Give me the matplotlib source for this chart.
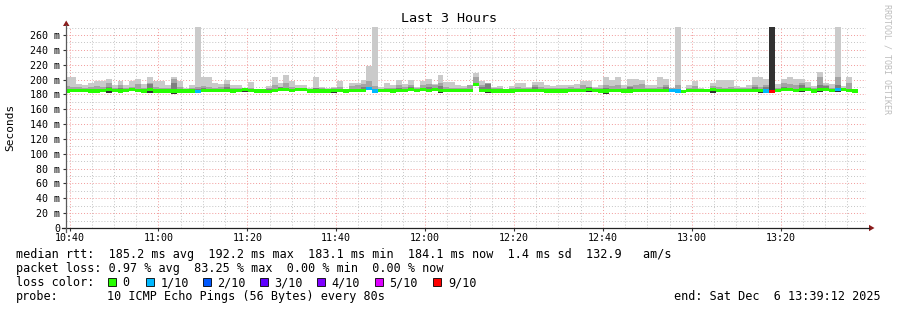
import numpy as np
import matplotlib.pyplot as plt
from matplotlib.lines import Line2D
from matplotlib.patches import Polygon, Rectangle

plt.rcParams['font.family'] = 'DejaVu Sans Mono'

W, H = 897, 310

# time axis: minutes after midnight, one column per 80 s step
t_start = 10*60 + 39.2   # 10:39:12
t_end = 13*60 + 39.2     # 13:39:12
step = 80/60

x_ticks = [640, 660, 680, 700, 720, 740, 760, 780, 800]
x_labels = ["10:40", "11:00", "11:20", "11:40", "12:00", "12:20", "12:40", "13:00", "13:20"]
y_ticks = [0, 20, 40, 60, 80, 100, 120, 140, 160, 180, 200, 220, 240, 260]
y_labels = ["0", "20 m", "40 m", "60 m", "80 m", "100 m", "120 m", "140 m", "160 m",
            "180 m", "200 m", "220 m", "240 m", "260 m"]

# median rtt per step (ms)
median = [184.5, 185.5, 185.5, 185.0, 184.5, 184.5, 185.5, 186.0, 185.0, 184.5,
          185.5, 186.0, 185.0, 184.5, 186.0, 184.5, 184.5, 184.5, 184.5, 184.5,
          184.5, 184.5, 184.0, 185.0, 185.0, 185.5, 185.5, 185.0, 184.5, 185.5,
          186.5, 185.0, 184.5, 184.5, 184.0, 185.5, 186.0, 186.0, 185.0, 187.0,
          187.0, 184.5, 184.5, 184.5, 184.5, 185.5, 185.5, 184.5, 185.0, 185.5,
          185.0, 187.5, 184.5, 185.0, 185.0, 184.5, 185.0, 185.5, 186.0, 185.5,
          186.0, 185.0, 186.0, 185.0, 185.0, 185.5, 185.0, 185.5, 185.0, 193.0,
          185.5, 185.0, 184.5, 184.5, 184.5, 184.5, 185.0, 185.0, 185.0, 185.0,
          185.0, 184.5, 184.5, 184.5, 184.5, 185.0, 185.0, 185.0, 187.0, 185.0,
          184.5, 184.5, 185.0, 185.5, 184.5, 184.5, 185.0, 185.0, 185.0, 185.0,
          185.0, 185.5, 185.0, 184.5, 183.5, 185.0, 185.0, 185.0, 185.0, 186.0,
          185.0, 185.0, 185.0, 185.0, 185.0, 185.0, 185.5, 185.5, 184.5, 183.5,
          185.5, 186.5, 186.5, 185.5, 186.5, 186.0, 184.5, 186.5, 186.5, 185.5,
          186.5, 186.0, 185.0, 184.5]

# lost pings out of 10 per step
loss = [0, 0, 0, 0, 0, 0, 0, 0, 0, 0,
        0, 0, 0, 0, 0, 0, 0, 0, 0, 0,
        0, 0, 1, 0, 0, 0, 0, 0, 0, 0,
        0, 0, 0, 0, 0, 0, 0, 0, 0, 0,
        0, 0, 0, 0, 0, 0, 0, 0, 0, 0,
        0, 1, 1, 0, 0, 0, 0, 0, 0, 0,
        0, 0, 0, 0, 0, 0, 0, 0, 0, 0,
        0, 0, 0, 0, 0, 0, 0, 0, 0, 0,
        0, 0, 0, 0, 0, 0, 0, 0, 0, 0,
        0, 0, 0, 0, 0, 0, 0, 0, 0, 0,
        0, 0, 1, 1, 0, 0, 0, 0, 0, 0,
        0, 0, 0, 0, 0, 0, 0, 0, 1, 9,
        0, 0, 0, 0, 0, 0, 0, 0, 0, 0,
        1, 0, 0, 0]

# smoke: slowest ping, 2nd, 3rd slowest, middle ping, fastest ping (ms)
ping_max = [204, 204, 194, 193, 195, 197.5, 198, 201, 193, 197.5,
            193, 197.5, 201, 194, 203, 197.5, 197.5, 192, 204, 197.5,
            188.5, 193, 320, 203, 204, 195, 194, 200, 193, 192,
            188.5, 196.5, 186.5, 186.5, 190.8, 203, 195, 205.6, 197.5, 193,
            192, 188.5, 203, 189.4, 188.5, 189.4, 197.5, 187.6, 195, 195,
            200, 217.7, 320, 189.4, 195, 192, 200, 194, 200, 189.4,
            197.5, 201, 194, 205.6, 196.5, 196.5, 192, 190.8, 192, 208.7,
            197.5, 195, 189.4, 190.8, 187.6, 190.8, 195, 195, 189.4, 196.5,
            196.5, 192, 190.8, 192, 193, 193, 194, 197.5, 197.5, 189.4,
            192, 203, 200, 204, 192, 201, 201, 200, 193, 192,
            203, 201, 188.5, 320, 186, 193, 198, 188.5, 186.3, 195,
            200, 200, 200, 190.8, 189.4, 192, 204, 204, 201, 320,
            194, 201, 204, 201, 201, 196.5, 190.8, 210, 195, 194,
            320, 190.8, 204, 186.3]

ping_9 = [191, 190, 190, 189, 190, 191, 190, 195, 189, 192,
          189, 190, 194, 189, 196, 190, 189, 188, 201, 190,
          187, 189, 190, 191, 190, 189, 190, 194, 189, 188,
          188, 189, 186, 186, 189, 193, 190, 196, 190, 188,
          189, 187, 189, 188, 187, 188, 190, 187, 191, 192,
          194, 198, 191, 187, 189, 188, 193, 190, 192, 188,
          193, 194, 192, 196, 190, 189, 188, 188, 192, 203,
          193, 195, 188, 189, 187, 188, 190, 189, 188, 192,
          190, 188, 188, 189, 189, 190, 189, 192, 190, 188,
          189, 192, 191, 192, 189, 191, 192, 194, 189, 188,
          190, 193, 188, 193, 185, 188, 191, 187, 186, 191,
          190, 189, 190, 188, 188, 189, 192, 190, 192, 320,
          189, 195, 194, 193, 196, 190, 188, 203, 192, 189,
          204, 188, 195, 186]

ping_8 = [187, 187, 187, 187, 187, 187, 187, 190, 187, 189,
          187, 187, 187, 187, 194, 187, 187, 187, 196, 187,
          187, 187, 187, 189, 187, 187, 187, 190, 187, 187,
          187, 187, 186, 186, 187, 187, 190, 187, 187, 187,
          187, 187, 188, 187, 187, 187, 187, 187, 187, 187,
          190, 190, 187, 187, 187, 187, 189, 187, 190, 187,
          187, 190, 187, 191, 187, 187, 187, 187, 187, 195,
          190, 194, 187, 187, 187, 187, 187, 187, 187, 190,
          187, 187, 187, 187, 187, 187, 187, 187, 190, 187,
          187, 189, 187, 187, 187, 190, 187, 187, 187, 187,
          187, 190, 187, 187, 185, 187, 187, 187, 186, 189,
          187, 187, 187, 187, 187, 187, 190, 187, 190, 320,
          187, 190, 187, 187, 193, 187, 187, 193, 191, 187,
          193, 187, 187, 186]

ping_6 = [184.5, 185.5, 185.5, 185.0, 184.5, 184.5, 185.5, 186.0, 185.0, 184.5,
          185.5, 186.0, 185.0, 184.5, 186.0, 184.5, 184.5, 184.5, 184.5, 184.5,
          184.5, 184.5, 184.0, 185.0, 185.0, 185.5, 185.5, 185.0, 184.5, 185.5,
          186.5, 185.0, 184.5, 184.5, 184.0, 185.5, 186.0, 186.0, 185.0, 187.0,
          187.0, 184.5, 184.5, 184.5, 184.5, 185.5, 185.5, 184.5, 185.0, 185.5,
          185.0, 187.5, 184.5, 185.0, 185.0, 184.5, 185.0, 185.5, 186.0, 185.5,
          186.0, 185.0, 186.0, 185.0, 185.0, 185.5, 185.0, 185.5, 185.0, 193.0,
          185.5, 185.0, 184.5, 184.5, 184.5, 184.5, 185.0, 185.0, 185.0, 185.0,
          185.0, 184.5, 184.5, 184.5, 184.5, 185.0, 185.0, 185.0, 187.0, 185.0,
          184.5, 184.5, 185.0, 185.5, 184.5, 184.5, 185.0, 185.0, 185.0, 185.0,
          185.0, 185.5, 185.0, 184.5, 183.5, 185.0, 185.0, 185.0, 185.0, 186.0,
          185.0, 185.0, 185.0, 185.0, 185.0, 185.0, 185.5, 185.5, 184.5, 320,
          185.5, 186.5, 186.5, 185.5, 186.5, 186.0, 184.5, 186.5, 186.5, 185.5,
          186.5, 186.0, 185.0, 184.5]

ping_min = [183.0, 184.0, 184.0, 183.5, 183.0, 183.0, 184.0, 182.5, 183.5, 183.0,
            184.0, 184.5, 183.5, 183.0, 182.5, 183.0, 183.0, 183.0, 181.0, 183.0,
            183.0, 183.0, 182.5, 183.5, 183.5, 184.0, 184.0, 183.5, 183.0, 184.0,
            183.0, 183.5, 183.0, 183.0, 182.5, 184.0, 184.5, 184.5, 183.5, 185.5,
            185.5, 183.0, 183.0, 183.0, 183.0, 182.0, 184.0, 183.0, 183.5, 184.0,
            183.5, 186.0, 183.0, 183.5, 183.5, 183.0, 183.5, 184.0, 184.5, 184.0,
            184.5, 183.5, 184.5, 181.5, 183.5, 184.0, 183.5, 184.0, 183.5, 192.0,
            184.0, 181.5, 183.0, 183.0, 183.0, 183.0, 183.5, 183.5, 183.5, 183.5,
            183.5, 183.0, 183.0, 183.0, 183.0, 183.5, 183.5, 183.5, 183.5, 183.5,
            183.0, 181.0, 183.5, 184.0, 183.0, 183.0, 183.5, 183.5, 183.5, 183.5,
            183.5, 184.0, 183.5, 183.0, 182.0, 183.5, 183.5, 183.5, 183.5, 182.5,
            183.5, 183.5, 183.5, 183.5, 183.5, 183.5, 184.0, 182.0, 183.0, 182.0,
            184.0, 185.0, 185.0, 184.0, 183.0, 184.5, 183.0, 183.0, 185.0, 184.0,
            183.0, 184.5, 183.5, 183.0]

loss_levels = [0, 1, 2, 3, 4, 5, 9]
loss_labels = ["0", "1/10", "2/10", "3/10", "4/10", "5/10", "9/10"]
loss_colors = ['#26ff00', '#00b8ff', '#0059ff', '#5e00ff', '#7e00ff', '#dd00ff', '#ff0000']

fig = plt.figure(figsize=(W/100, H/100), dpi=100)
fig.patch.set_facecolor('white')

ytop = 270.5
ax = fig.add_axes([66/W, 1 - 228/H, 800/W, ytop*0.7423/H])
ax.set_xlim(t_start, t_end)
ax.set_ylim(0, ytop)
for s in ax.spines.values():
    s.set_visible(False)

n = len(median)
edges = t_start + (np.arange(n + 1) - 0.3) * step
lo = np.array(ping_min)

# smoke bands, light outside to dark inside
ax.stairs(ping_max, edges, baseline=lo, fill=True, color='#cacaca', lw=0)
ax.stairs(ping_9, edges, baseline=lo, fill=True, color='#a4a4a4', lw=0)
ax.stairs(ping_8, edges, baseline=lo, fill=True, color='#7e7e7e', lw=0)
ax.stairs(ping_6, edges, baseline=lo, fill=True, color='#323232', lw=0)

# median band coloured by loss
med = np.array(median)
ls = np.array(loss)
half = 2.1
for lvl, col in zip(loss_levels, loss_colors):
    if not np.any(ls == lvl):
        continue
    top = np.where(ls == lvl, med + half, np.nan)
    ax.stairs(top, edges, baseline=med - half, fill=True, color=col, lw=0)

# grid
ax.set_xticks(x_ticks)
ax.set_xticklabels(x_labels)
ax.set_xticks(np.arange(640, 820, 5), minor=True)
ax.set_yticks(y_ticks)
ax.set_yticklabels(y_labels)
ax.set_yticks(np.arange(10, 271, 20), minor=True)
ax.set_axisbelow(True)
ax.grid(which='minor', color='#c4c4c4', linestyle=(0, (1, 2)), lw=0.7)
ax.grid(which='major', color='#f29a9a', linestyle=(0, (1, 2)), lw=0.7)
ax.tick_params(which='minor', length=0)
ax.tick_params(axis='x', which='major', length=2, width=0.8, color='#333333',
               labelsize=7.2, pad=1.7)
ax.tick_params(axis='y', which='major', length=2, width=0.8, color='#333333',
               labelsize=7.2, pad=2.3)

# axis lines with arrows
def fx(x):
    return x / W

def fy(y):
    return 1 - y / H

fig.add_artist(Line2D([fx(62), fx(869)], [fy(228), fy(228)], color='#222222', lw=0.9))
fig.add_artist(Line2D([fx(66), fx(66)], [fy(232), fy(25)], color='#5a5a5a', lw=0.9))
fig.add_artist(Polygon([(fx(63), fy(26)), (fx(69.5), fy(26)), (fx(66.2), fy(20.5))],
                       closed=True, color='#8b1c1c', lw=0, transform=fig.transFigure))
fig.add_artist(Polygon([(fx(869), fy(224.8)), (fx(869), fy(231.2)), (fx(874.5), fy(228))],
                       closed=True, color='#8b1c1c', lw=0, transform=fig.transFigure))

# texts
fig.text(fx(448.5), fy(19), "Last 3 Hours", ha='center', va='center', fontsize=9.6)
fig.text(fx(10), fy(127), "Seconds", rotation=90, ha='center', va='center', fontsize=8)
fig.text(fx(887), fy(59), "RRDTOOL / TOBI OETIKER", rotation=270, ha='center',
         va='center', fontsize=6, color='#bdbdbd')

fs = 8.5
fig.text(fx(16), fy(258), "median rtt:  185.2 ms avg  192.2 ms max  183.1 ms min  "
         "184.1 ms now  1.4 ms sd  132.9   am/s", fontsize=fs, va='baseline')
fig.text(fx(16), fy(272), "packet loss: 0.97 % avg  83.25 % max  0.00 % min  0.00 % now",
         fontsize=fs, va='baseline')
fig.text(fx(16), fy(286), "loss color:", fontsize=fs, va='baseline')
box_x = [108, 145.7, 203, 260, 317, 375, 433.3]
for bx, lab, col in zip(box_x, loss_labels, loss_colors):
    fig.add_artist(Rectangle((fx(bx), fy(286)), 8/W, 8/H, transform=fig.transFigure,
                             facecolor=col, edgecolor='black', lw=0.6))
    fig.text(fx(bx + 14.5), fy(286), lab, fontsize=fs, va='baseline')
fig.text(fx(16), fy(300), "probe:", fontsize=fs, va='baseline')
fig.text(fx(107.3), fy(300), "10 ICMP Echo Pings (56 Bytes) every 80s", fontsize=fs,
         va='baseline')
fig.text(fx(881), fy(300), "end: Sat Dec  6 13:39:12 2025", fontsize=fs, va='baseline',
         ha='right')

fig.savefig('out.png', dpi=100)
